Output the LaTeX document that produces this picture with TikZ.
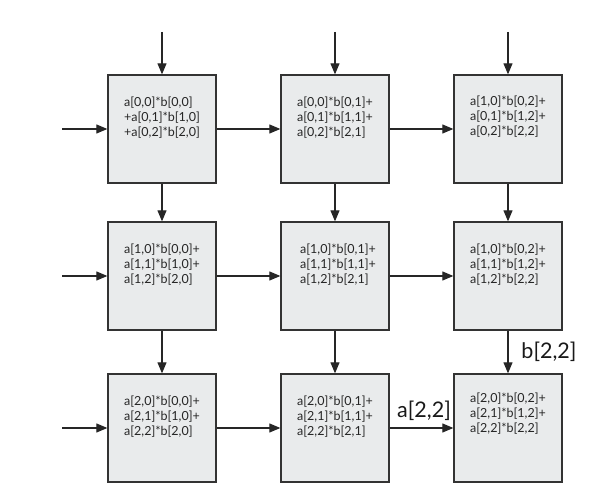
\documentclass[tikz,border=0pt]{standalone}
\usepackage{fontspec}
\setmainfont{Lato}
\usetikzlibrary{arrows.meta}
\definecolor{cellfill}{HTML}{E9EBEC}
\definecolor{edge}{HTML}{333333}
\tikzset{
  cell/.style={draw=edge, line width=1.3pt, fill=cellfill, minimum width=108pt, minimum height=108pt, inner sep=0pt},
  celltext/.style={align=left, inner sep=0pt, font=\fontsize{12.5}{15}\selectfont, text=black!85},
  arr/.style={draw=black!85, line width=1.1pt, -{Triangle[length=11pt,width=9pt]}},
  biglabel/.style={font=\fontsize{21.5}{24}\selectfont, inner sep=0pt, text=black!90}
}
\begin{document}
\begin{tikzpicture}[x=1pt,y=1pt]
\useasboundingbox (0,0) rectangle (600,497);
% boxes (centers: x 162,335,508 ; y px 129,276,428)
\node[cell] (b11) at (162,368) {};
\node[cell] (b12) at (335,368) {};
\node[cell] (b13) at (508,368) {};
\node[cell] (b21) at (162,221) {};
\node[cell] (b22) at (335,221) {};
\node[cell] (b23) at (508,221) {};
\node[cell] (b31) at (162,69) {};
\node[cell] (b32) at (335,69) {};
\node[cell] (b33) at (508,69) {};
% texts
\node[celltext] (t11) at ([yshift=11pt]b11.center) {a[0,0]*b[0,0]\\+a[0,1]*b[1,0]\\+a[0,2]*b[2,0]};
\node[celltext] (t12) at ([yshift=11pt]b12.center) {a[0,0]*b[0,1]+\\a[0,1]*b[1,1]+\\a[0,2]*b[2,1]};
\node[celltext] (t13) at ([yshift=12pt]b13.center) {a[1,0]*b[0,2]+\\a[0,1]*b[1,2]+\\a[0,2]*b[2,2]};
\node[celltext] (t21) at ([yshift=11pt]b21.center) {a[1,0]*b[0,0]+\\a[1,1]*b[1,0]+\\a[1,2]*b[2,0]};
\node[celltext] (t22) at ([xshift=3pt,yshift=11pt]b22.center) {a[1,0]*b[0,1]+\\a[1,1]*b[1,1]+\\a[1,2]*b[2,1]};
\node[celltext] (t23) at ([yshift=11pt]b23.center) {a[1,0]*b[0,2]+\\a[1,1]*b[1,2]+\\a[1,2]*b[2,2]};
\node[celltext] (t31) at ([yshift=11pt]b31.center) {a[2,0]*b[0,0]+\\a[2,1]*b[1,0]+\\a[2,2]*b[2,0]};
\node[celltext] (t32) at ([yshift=11pt]b32.center) {a[2,0]*b[0,1]+\\a[2,1]*b[1,1]+\\a[2,2]*b[2,1]};
\node[celltext] (t33) at ([yshift=14pt]b33.center) {a[2,0]*b[0,2]+\\a[2,1]*b[1,2]+\\a[2,2]*b[2,2]};
% free ends
\coordinate (top1) at (162,465);
\coordinate (top2) at (335,465);
\coordinate (top3) at (508,465);
\coordinate (left1) at (62,368);
\coordinate (left2) at (62,221);
\coordinate (left3) at (62,69);
% inputs
\draw[arr] (top1) -- (b11);
\draw[arr] (top2) -- (b12);
\draw[arr] (top3) -- (b13);
\draw[arr] (left1) -- (b11);
\draw[arr] (left2) -- (b21);
\draw[arr] (left3) -- (b31);
% horizontal
\draw[arr] (b11) -- (b12);
\draw[arr] (b12) -- (b13);
\draw[arr] (b21) -- (b22);
\draw[arr] (b22) -- (b23);
\draw[arr] (b31) -- (b32);
\draw[arr] (b32) -- (b33);
% vertical
\draw[arr] (b11) -- (b21);
\draw[arr] (b12) -- (b22);
\draw[arr] (b13) -- (b23);
\draw[arr] (b21) -- (b31);
\draw[arr] (b22) -- (b32);
\draw[arr] (b23) -- (b33);
% labels
\node[biglabel] (la) at (424,86) {a[2,2]};
\node[biglabel] (lb) at (549,145) {b[2,2]};
\end{tikzpicture}
\end{document}
